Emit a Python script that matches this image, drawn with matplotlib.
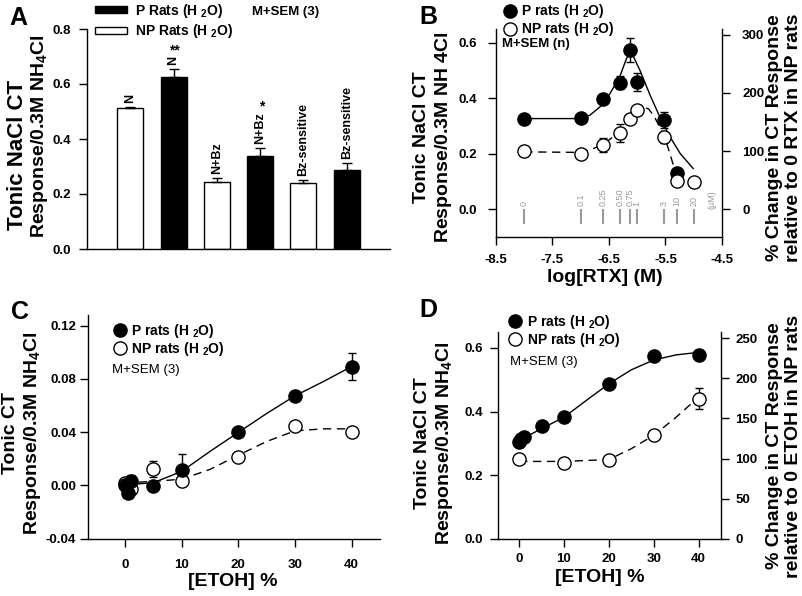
import matplotlib
matplotlib.use("Agg")
import matplotlib.pyplot as plt
from matplotlib.ticker import FormatStrFormatter

plt.rcParams['font.family'] = ['Liberation Sans', 'DejaVu Sans']
plt.rcParams['mathtext.fontset'] = 'custom'
plt.rcParams['mathtext.rm'] = 'Liberation Sans'
plt.rcParams['mathtext.bf'] = 'Liberation Sans:bold'
plt.rcParams['mathtext.it'] = 'Liberation Sans:italic'

# ---- panel A: bar chart ----
a_labels = ["N", "N", "N+Bz", "N+Bz", "Bz-sensitive", "Bz-sensitive"]
a_groups = ["NP", "P", "NP", "P", "NP", "P"]
a_values = [0.512, 0.626, 0.242, 0.339, 0.240, 0.287]
a_err = [0.004, 0.028, 0.017, 0.027, 0.010, 0.026]
a_sig = ["", "**", "", "*", "", ""]

# ---- panel B: RTX dose response (log M) ----
b_p_x = [-8.0, -7.0, -6.6, -6.3, -6.125, -6.0, -5.52, -5.3]
b_p_y = [0.326, 0.330, 0.397, 0.457, 0.573, 0.460, 0.322, 0.132]
b_p_err = [0.0, 0.012, 0.0, 0.025, 0.043, 0.033, 0.030, 0.0]
b_np_x = [-8.0, -7.0, -6.6, -6.3, -6.125, -6.0, -5.52, -5.3, -5.0]
b_np_y = [0.210, 0.200, 0.232, 0.274, 0.325, 0.358, 0.259, 0.102, 0.099]
b_np_err = [0.0, 0.0, 0.025, 0.033, 0.0, 0.0, 0.020, 0.0, 0.0]
b_p_fit_x = [-8.0, -7.0, -6.84, -6.66, -6.48, -6.31, -6.19, -6.13, -6.07,
             -5.95, -5.77, -5.6, -5.42, -5.24, -5.01]
b_p_fit_y = [0.327, 0.327, 0.339, 0.369, 0.418, 0.478, 0.544, 0.562, 0.552,
             0.500, 0.410, 0.333, 0.261, 0.201, 0.147]
b_np_fit_x = [-8.0, -7.0, -6.84, -6.6, -6.31, -6.13, -6.01, -5.9, -5.8,
              -5.7, -5.6, -5.52, -5.42, -5.3]
b_np_fit_y = [0.207, 0.205, 0.213, 0.235, 0.279, 0.327, 0.358, 0.368, 0.362,
              0.335, 0.295, 0.262, 0.200, 0.115]
b_conc_x = [-8.0, -7.0, -6.6, -6.3, -6.125, -6.0, -5.52, -5.3, -5.0]
b_conc_labels = ["0", "0.1", "0.25", "0.50", "0.75", "1", "3", "10", "20"]

# ---- panel C: ETOH, tonic CT ----
c_p_x = [0, 0.5, 1, 5, 10, 20, 30, 40]
c_p_y = [0.0005, -0.0057, 0.003, -0.0003, 0.0117, 0.0398, 0.0673, 0.0893]
c_p_err = [0, 0, 0.005, 0, 0.012, 0, 0, 0.010]
c_np_x = [0, 1, 5, 10, 20, 30, 40]
c_np_y = [0.002, -0.003, 0.0123, 0.0037, 0.0213, 0.0443, 0.040]
c_np_err = [0, 0, 0.006, 0, 0, 0, 0]
c_p_fit_x = [0, 5, 10, 15, 20, 25, 30, 35, 40]
c_p_fit_y = [0.0005, 0.002, 0.0105, 0.0255, 0.0398, 0.054, 0.0673, 0.078, 0.0893]
c_np_fit_x = [0, 5, 10, 15, 20, 25, 30, 35, 40]
c_np_fit_y = [0.002, 0.003, 0.0047, 0.012, 0.0227, 0.033, 0.041, 0.0425, 0.0425]

# ---- panel D: ETOH, tonic NaCl CT ----
d_p_x = [0, 0.5, 1, 5, 10, 20, 30, 40]
d_p_y = [0.304, 0.315, 0.320, 0.353, 0.384, 0.488, 0.574, 0.577]
d_p_err = [0, 0, 0, 0, 0, 0, 0.010, 0.015]
d_np_x = [0, 10, 20, 30, 40]
d_np_y = [0.252, 0.238, 0.249, 0.325, 0.440]
d_np_err = [0, 0, 0, 0, 0.033]
d_p_fit_x = [0, 5, 10, 15, 20, 25, 30, 35, 40]
d_p_fit_y = [0.309, 0.346, 0.382, 0.435, 0.487, 0.531, 0.562, 0.578, 0.586]
d_np_fit_x = [0, 10, 20, 25, 30, 35, 40]
d_np_fit_y = [0.243, 0.243, 0.249, 0.283, 0.325, 0.382, 0.445]

W, H = 803, 596
fig = plt.figure(figsize=(W / 100, H / 100), dpi=100)


def fx(x):
    return x / W


def fy(y):
    return 1 - y / H


def box(l, t, r, b):
    return [l / W, 1 - b / H, (r - l) / W, (b - t) / H]


TICK = 9.5
LAB = 14
LEG = 10
SEM = 9.5
MS = 9.5
H2O = r"(H $_\mathbf{2}$O)"


def style_axis(ax, xpad, ypad):
    for s in ['top', 'right']:
        ax.spines[s].set_visible(False)
    for s in ['left', 'bottom', 'right']:
        ax.spines[s].set_linewidth(1.0)
    ax.tick_params(direction='out', length=5.5, width=1.0, labelsize=TICK)
    ax.tick_params(axis='x', pad=xpad)
    ax.tick_params(axis='y', pad=ypad)
    for t in ax.get_xticklabels() + ax.get_yticklabels():
        t.set_fontweight('bold')


def draw_points(ax, x, y, err, filled):
    ax.errorbar(x, y, yerr=err, fmt='none', ecolor='black', elinewidth=1,
                capsize=3, capthick=1, zorder=3)
    line, = ax.plot(x, y, linestyle='none', marker='o', markersize=MS,
                    markerfacecolor='black' if filled else 'white',
                    markeredgecolor='black', markeredgewidth=1.0, zorder=4)
    return line


def marker_legend(ax, handles, left, top, pad):
    ax.legend(handles, ["P rats " + H2O, "NP rats " + H2O], loc='upper left',
              bbox_to_anchor=(fx(left), fy(top)), bbox_transform=fig.transFigure,
              frameon=False, prop={'weight': 'bold', 'size': LEG},
              handlelength=1.0, handletextpad=pad, labelspacing=0.0,
              borderpad=0, borderaxespad=0, numpoints=1)


# ================= A =================
axA = fig.add_axes(box(87, 29, 390, 249))
xa = list(range(len(a_values)))
bars = axA.bar(xa, a_values, width=0.6,
               color=['black' if g == "P" else 'white' for g in a_groups],
               edgecolor='black', linewidth=1.0, zorder=2)
axA.errorbar(xa, a_values, yerr=[[0] * len(a_err), a_err], fmt='none',
             ecolor='black', elinewidth=1, capsize=3.5, capthick=1, zorder=3)
for i, lab in enumerate(a_labels):
    t = axA.annotate(lab, xy=(xa[i], a_values[i] + a_err[i]), xytext=(0, 3),
                     textcoords='offset points', rotation=90, ha='center',
                     va='bottom', fontsize=9, fontweight='bold')
    if a_sig[i]:
        axA.annotate(a_sig[i], xy=(0.6, 1.0), xycoords=t, xytext=(0, -1),
                     textcoords='offset points', ha='center', va='bottom',
                     fontsize=10, fontweight='bold')
axA.set_xlim(-1, 6)
axA.set_ylim(0, 0.8)
axA.set_yticks([0, 0.2, 0.4, 0.6, 0.8])
axA.yaxis.set_major_formatter(FormatStrFormatter('%.1f'))
axA.set_xticks([])
style_axis(axA, 4, 6)
axA.legend([bars[1], bars[0]], ["P Rats " + H2O, "NP Rats " + H2O],
           loc='upper left', bbox_to_anchor=(fx(95), fy(1.5)),
           bbox_transform=fig.transFigure, frameon=False,
           prop={'weight': 'bold', 'size': LEG}, handlelength=2.3,
           handleheight=0.4, handletextpad=0.6, labelspacing=0.2,
           borderpad=0, borderaxespad=0)
fig.text(fx(252), fy(12), "M+SEM (3)", fontsize=SEM, fontweight='bold',
         ha='left', va='center')
fig.text(fx(17.5), fy(155), "Tonic NaCl CT", rotation=90, ha='center',
         va='center', fontsize=16, fontweight='bold')
fig.text(fx(40), fy(136), "Response/0.3M NH$_\\mathbf{4}$Cl", rotation=90,
         ha='center', va='center', fontsize=LAB, fontweight='bold')
fig.text(fx(9), fy(18), "A", fontsize=18, fontweight='bold', ha='left', va='center')

# ================= B =================
axB = fig.add_axes(box(496, 29, 722, 237))
axB.plot(b_p_fit_x, b_p_fit_y, color='black', lw=1.0, zorder=2)
axB.plot(b_np_fit_x, b_np_fit_y, color='black', lw=1.0, dashes=(6, 4), zorder=2)
axB.vlines(b_conc_x, -0.054, 0.0, color='#9a9a9a', lw=1.5, zorder=1)
for cx, cl in zip(b_conc_x, b_conc_labels):
    axB.text(cx, 0.013, cl, rotation=90, ha='center', va='bottom',
             fontsize=6.5, color='#9a9a9a')
axB.text(-4.68, 0.0, "(\u03bcM)", rotation=90, ha='center', va='bottom',
         fontsize=6.5, color='#9a9a9a')
hp = draw_points(axB, b_p_x, b_p_y, b_p_err, True)
hn = draw_points(axB, b_np_x, b_np_y, b_np_err, False)
hn.set_zorder(5)
axB.set_xlim(-8.5, -4.5)
axB.set_xticks([-8.5, -7.5, -6.5, -5.5, -4.5])
axB.xaxis.set_major_formatter(FormatStrFormatter('%.1f'))
axB.set_ylim(-0.1, 0.65)
axB.set_yticks([0, 0.2, 0.4, 0.6])
axB.yaxis.set_major_formatter(FormatStrFormatter('%.1f'))
style_axis(axB, 7, 8)
b_base = b_np_y[0]
secB = axB.secondary_yaxis('right', functions=(lambda v: v / b_base * 100,
                                               lambda v: v * b_base / 100))
secB.set_yticks([0, 100, 200, 300])
secB.spines['right'].set_linewidth(1.0)
secB.tick_params(direction='out', length=5.5, width=1.0, labelsize=TICK, pad=9)
for t in secB.get_yticklabels():
    t.set_fontweight('bold')
marker_legend(axB, [hp, hn], 503, 2.5, 0.32)
fig.text(fx(502), fy(44), "M+SEM (n)", fontsize=SEM, fontweight='bold',
         ha='left', va='center')
fig.text(fx(433), fy(137), "Tonic NaCl CT\nResponse/0.3M NH $\\mathbf{4}$Cl",
         rotation=90, ha='center', va='center', multialignment='center',
         fontsize=LAB, fontweight='bold')
fig.text(fx(784), fy(138), "% Change in CT Response\nrelative to 0 RTX in NP rats",
         rotation=90, ha='center', va='center', multialignment='center',
         fontsize=LAB, fontweight='bold')
fig.text(fx(605), fy(277), "log[RTX] (M)", fontsize=LAB, fontweight='bold',
         ha='center', va='center')
fig.text(fx(419), fy(17), "B", fontsize=18, fontweight='bold', ha='left', va='center')

# ================= C =================
axC = fig.add_axes(box(88, 315, 380, 538.7))
axC.plot(c_p_fit_x, c_p_fit_y, color='black', lw=1.0, zorder=2)
axC.plot(c_np_fit_x, c_np_fit_y, color='black', lw=1.0, dashes=(6, 4), zorder=2)
hn = draw_points(axC, c_np_x, c_np_y, c_np_err, False)
hp = draw_points(axC, c_p_x, c_p_y, c_p_err, True)
hp.set_zorder(5)
axC.set_xlim(-6.5, 45)
axC.set_xticks([0, 10, 20, 30, 40])
axC.set_ylim(-0.04, 0.128)
axC.set_yticks([-0.04, 0.0, 0.04, 0.08, 0.12])
axC.yaxis.set_major_formatter(FormatStrFormatter('%.2f'))
style_axis(axC, 9, 3)
marker_legend(axC, [hp, hn], 113, 322, 0.3)
fig.text(fx(112), fy(370), "M+SEM (3)", fontsize=SEM, ha='left', va='center')
fig.text(fx(23), fy(433), "Tonic CT\nResponse/0.3M NH$_\\mathbf{4}$Cl",
         rotation=90, ha='center', va='center', multialignment='center',
         fontsize=LAB, fontweight='bold')
fig.text(fx(233), fy(582), "[ETOH] %", fontsize=LAB, fontweight='bold',
         ha='center', va='center')
fig.text(fx(11), fy(312), "C", fontsize=18, fontweight='bold', ha='left', va='center')

# ================= D =================
axD = fig.add_axes(box(498, 332, 721, 538.7))
axD.plot(d_p_fit_x, d_p_fit_y, color='black', lw=1.0, zorder=2)
axD.plot(d_np_fit_x, d_np_fit_y, color='black', lw=1.0, dashes=(6, 4), zorder=2)
hp = draw_points(axD, d_p_x, d_p_y, d_p_err, True)
hn = draw_points(axD, d_np_x, d_np_y, d_np_err, False)
axD.set_xlim(-4.7, 45)
axD.set_xticks([0, 10, 20, 30, 40])
axD.set_ylim(0, 0.65)
axD.set_yticks([0, 0.2, 0.4, 0.6])
axD.yaxis.set_major_formatter(FormatStrFormatter('%.1f'))
style_axis(axD, 5, 5)
d_base = d_np_y[0]
secD = axD.secondary_yaxis('right', functions=(lambda v: v / d_base * 100,
                                               lambda v: v * d_base / 100))
secD.set_yticks([0, 50, 100, 150, 200, 250])
secD.spines['right'].set_linewidth(1.0)
secD.tick_params(direction='out', length=5.5, width=1.0, labelsize=TICK, pad=5)
for t in secD.get_yticklabels():
    t.set_fontweight('bold')
marker_legend(axD, [hp, hn], 508, 313, 0.35)
fig.text(fx(510), fy(362), "M+SEM (3)", fontsize=SEM, ha='left', va='center')
fig.text(fx(435), fy(443), "Tonic NaCl CT\nResponse/0.3M NH$_\\mathbf{4}$Cl",
         rotation=90, ha='center', va='center', multialignment='center',
         fontsize=LAB, fontweight='bold')
fig.text(fx(784), fy(446), "% Change in CT Response\nrelative to 0 ETOH in NP rats",
         rotation=90, ha='center', va='center', multialignment='center',
         fontsize=LAB, fontweight='bold')
fig.text(fx(600), fy(577), "[ETOH] %", fontsize=LAB, fontweight='bold',
         ha='center', va='center')
fig.text(fx(419), fy(310), "D", fontsize=18, fontweight='bold', ha='left', va='center')

fig.savefig("out.png", dpi=100)
